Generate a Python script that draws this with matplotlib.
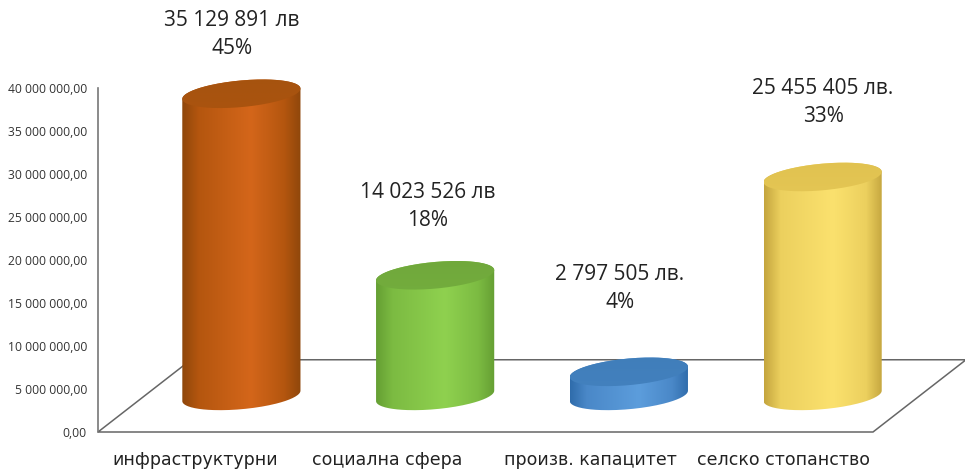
import numpy as np
import matplotlib
matplotlib.use("Agg")
import matplotlib.pyplot as plt
from matplotlib.colors import LinearSegmentedColormap, to_rgb
from matplotlib.patches import PathPatch, Polygon
from matplotlib.path import Path

categories = ["инфраструктурни", "социална сфера", "произв. капацитет", "селско стопанство"]
values = [35129891, 14023526, 2797505, 25455405]
value_labels = ["35 129 891 лв", "14 023 526 лв", "2 797 505 лв.", "25 455 405 лв."]
percent_labels = ["45%", "18%", "4%", "33%"]
y_ticks = [0, 5000000, 10000000, 15000000, 20000000, 25000000, 30000000, 35000000, 40000000]
y_tick_labels = ["0,00", "5 000 000,00", "10 000 000,00", "15 000 000,00", "20 000 000,00",
                 "25 000 000,00", "30 000 000,00", "35 000 000,00", "40 000 000,00"]

# dark edge, middle, bright centre, top face
bar_colors = [("#8f470b", "#b4560f", "#d4661a", "#a5530f"),
              ("#659f33", "#7cbb42", "#8fd14f", "#6fa63b"),
              ("#2f6cab", "#4a88c8", "#5c9ddc", "#3f7db9"),
              ("#c4a53e", "#ecd05e", "#fbe16e", "#e0c14f")]

W, H = 965, 471
DEPTH_X = 0.24
DEPTH_Y = 4.2e6
HALF_W = 0.305
ELL_B = 1.55e6
ELL_TILT = 0.6e6

fig = plt.figure(figsize=(W / 100, H / 100), dpi=100, facecolor="white")
ax = fig.add_axes([98 / W, 1 - 432 / H, 775 / W, 344 / H])
for s in ["top", "right", "bottom"]:
    ax.spines[s].set_visible(False)
ax.spines["left"].set_color("#777777")
ax.spines["left"].set_linewidth(1.2)

# floor
floor = Polygon([(-0.5, 0), (3.5, 0), (3.5 + 2 * DEPTH_X, 2 * DEPTH_Y), (-0.5 + 2 * DEPTH_X, 2 * DEPTH_Y)],
                closed=True, fill=False, edgecolor="#666666", linewidth=1.1, clip_on=False, zorder=1)
ax.add_patch(floor)


def clipped_gradient(grad, cmap, extent, px, py, zorder):
    im = ax.imshow(grad, cmap=cmap, aspect="auto", zorder=zorder, extent=extent, vmin=0, vmax=1)
    clip = PathPatch(Path(np.c_[px, py]), transform=ax.transData, facecolor="none", edgecolor="none")
    ax.add_patch(clip)
    im.set_clip_path(clip)
    im.set_clip_box(fig.bbox)


t = np.linspace(0, 2 * np.pi, 181)
for i, v in enumerate(values):
    cx = i + DEPTH_X
    base = DEPTH_Y
    ex = HALF_W * np.cos(t)
    ey = ELL_B * np.sin(t) + ELL_TILT * np.cos(t)
    dark, mid, bright, top = bar_colors[i]
    # body: top half of the lid, then lower half of the base ellipse
    upper = t <= np.pi
    lower = t >= np.pi
    bx = np.r_[cx + ex[upper], cx + ex[lower]]
    by = np.r_[base + v + ey[upper], base + ey[lower]]
    cmap = LinearSegmentedColormap.from_list("c", [(0, dark), (0.14, mid), (0.58, bright), (0.86, mid), (1, dark)])
    grad = np.linspace(0, 1, 256).reshape(1, -1)
    clipped_gradient(grad, cmap, [cx - HALF_W, cx + HALF_W, base - 2 * ELL_B, base + v + 2 * ELL_B], bx, by, 3)
    # lid fades into the body colour towards the front
    lid_front = tuple(0.6 * np.array(to_rgb(top)) + 0.4 * np.array(to_rgb(mid)))
    lid_cmap = LinearSegmentedColormap.from_list("l", [lid_front, top])
    lid_grad = np.linspace(0, 1, 64).reshape(-1, 1)[::-1]
    clipped_gradient(lid_grad, lid_cmap, [cx - HALF_W, cx + HALF_W, base + v - 2 * ELL_B, base + v + 2 * ELL_B],
                     cx + ex, base + v + ey, 4)

ax.set_xlim(-0.5, 3.5)
ax.set_ylim(0, 40000000)

ax.set_yticks(y_ticks)
ax.set_yticklabels(y_tick_labels, fontsize=8.7, fontfamily=["Open Sans", "DejaVu Sans"], color="#333333")
ax.tick_params(axis="y", length=0, pad=8)
# labels in the original do not sit exactly on the band centres
ax.set_xticks([0.0, 0.99, 2.04, 3.04])
ax.set_xticklabels(categories, fontsize=12.5, fontfamily="DejaVu Sans", color="#222222")
ax.tick_params(axis="x", length=0, pad=14)

label_centers = [232, 428, 620, 823]
label_y = [20, 193, 275, 88]
for i in range(4):
    fig.text(label_centers[i] / W, 1 - label_y[i] / H, value_labels[i], ha="center", va="center",
             fontsize=15, fontfamily=["Open Sans", "DejaVu Sans"], color="#222222")
    fig.text(label_centers[i] / W, 1 - (label_y[i] + 28) / H, percent_labels[i], ha="center", va="center",
             fontsize=15, fontfamily=["Open Sans", "DejaVu Sans"], color="#222222")

fig.savefig("out.png", dpi=100)
